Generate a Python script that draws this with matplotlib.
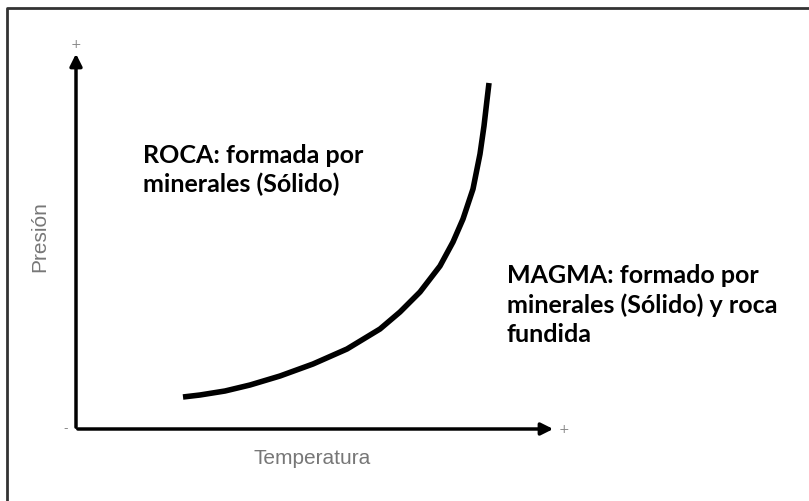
import matplotlib
matplotlib.use('Agg')
import matplotlib.pyplot as plt

# Curva de fusion (coordenadas, en pixeles)
curva_x = [183, 200, 225, 250, 280, 313, 347, 380, 400, 420, 440, 453, 463, 473, 480, 484, 487, 489]
curva_y = [398, 396, 392, 386, 377, 365, 350, 330, 313, 293, 267, 243, 220, 190, 155, 127, 101, 84]

texto_roca = "ROCA: formada por\nminerales (Sólido)"
texto_magma = "MAGMA: formado por\nminerales (Sólido) y roca\nfundida"
etiqueta_x = "Temperatura"
etiqueta_y = "Presión"

fig = plt.figure(figsize=(8.09, 5.02), dpi=100)
ax = fig.add_axes([0, 0, 1, 1])
ax.set_xlim(0, 809)
ax.set_ylim(502, 0)
ax.axis('off')

# marco de la captura
ax.plot([7, 7, 809], [502, 9, 9], color='#333333', lw=2)

# ejes con flechas
ax.annotate('', xy=(76, 52), xytext=(76, 431),
            arrowprops=dict(arrowstyle='-|>', color='black', lw=2.5, mutation_scale=18))
ax.annotate('', xy=(556, 430), xytext=(75, 430),
            arrowprops=dict(arrowstyle='-|>', color='black', lw=2.5, mutation_scale=18))
ax.text(76, 45, '+', ha='center', va='center', color='#888888', fontsize=9)
ax.text(564, 430, '+', ha='center', va='center', color='#888888', fontsize=9)
ax.text(66, 429, '-', ha='center', va='center', color='#888888', fontsize=9)

ax.plot(curva_x, curva_y, color='black', lw=4, solid_capstyle='butt', solid_joinstyle='round')

ax.text(143, 170, texto_roca, fontsize=18, fontweight='bold', family='Lato',
        va='center', ha='left', linespacing=1.32)
ax.text(507, 305, texto_magma, fontsize=18, fontweight='bold', family='Lato',
        va='center', ha='left', linespacing=1.32)

ax.text(312, 459, etiqueta_x, fontsize=15, color='#777777', family='Liberation Sans',
        ha='center', va='center')
ax.text(40, 237, etiqueta_y, fontsize=15, color='#777777', family='Liberation Sans',
        ha='center', va='center', rotation=90)

fig.savefig('out.png', dpi=100)
